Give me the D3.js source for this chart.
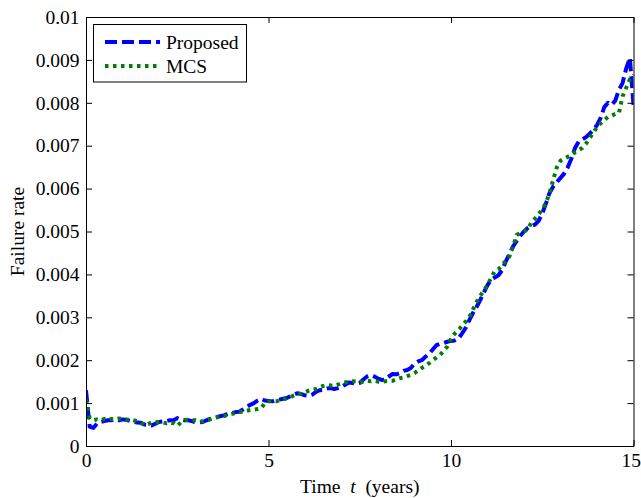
<!DOCTYPE html>
<html>
<head>
<meta charset="utf-8">
<script src="https://cdn.jsdelivr.net/npm/d3@7"></script>
<style>
  html, body { margin: 0; padding: 0; background: #fff; }
  svg { display: block; }
  text { font-family: "Liberation Serif", "Times New Roman", serif; fill: #000; }
</style>
</head>
<body>
<svg id="chart" width="641" height="498"></svg>
<script>
// Time axis (years), sampled every 0.1 year
const time = d3.range(0, 151).map(i => i / 10);

// Failure rate from the proposed method
const proposed = [
  0.00130, 0.00045, 0.00042, 0.00052, 0.00056, 0.00058, 0.00060, 0.00060, 0.00062, 0.00060,
  0.00062, 0.00061, 0.00059, 0.00056, 0.00055, 0.00054, 0.00050, 0.00049, 0.00048, 0.00052,
  0.00056, 0.00057, 0.00058, 0.00060, 0.00060, 0.00065, 0.00062, 0.00060, 0.00060, 0.00058,
  0.00055, 0.00055, 0.00056, 0.00060, 0.00063, 0.00065, 0.00068, 0.00070, 0.00072, 0.00076,
  0.00077, 0.00079, 0.00080, 0.00085, 0.00091, 0.00096, 0.00100, 0.00106, 0.00110, 0.00106,
  0.00105, 0.00104, 0.00106, 0.00108, 0.00110, 0.00112, 0.00116, 0.00120, 0.00123, 0.00121,
  0.00118, 0.00117, 0.00120, 0.00126, 0.00130, 0.00131, 0.00134, 0.00135, 0.00133, 0.00135,
  0.00138, 0.00143, 0.00148, 0.00147, 0.00144, 0.00147, 0.00155, 0.00162, 0.00165, 0.00162,
  0.00157, 0.00154, 0.00155, 0.00162, 0.00168, 0.00167, 0.00170, 0.00175, 0.00177, 0.00182,
  0.00192, 0.00197, 0.00200, 0.00208, 0.00215, 0.00225, 0.00235, 0.00238, 0.00240, 0.00243,
  0.00245, 0.00246, 0.00250, 0.00262, 0.00275, 0.00293, 0.00310, 0.00324, 0.00340, 0.00358,
  0.00375, 0.00388, 0.00393, 0.00398, 0.00410, 0.00430, 0.00448, 0.00465, 0.00478, 0.00490,
  0.00500, 0.00508, 0.00513, 0.00516, 0.00525, 0.00542, 0.00565, 0.00590, 0.00605, 0.00615,
  0.00625, 0.00635, 0.00650, 0.00670, 0.00695, 0.00710, 0.00715, 0.00720, 0.00728, 0.00737,
  0.00748, 0.00765, 0.00790, 0.00800, 0.00795, 0.00805, 0.00830, 0.00846, 0.00880, 0.00905,
  0.00795
];

// Failure rate from Monte Carlo simulation
const mcs = [
  0.00108, 0.00065, 0.00060, 0.00062, 0.00060, 0.00063, 0.00061, 0.00063, 0.00062, 0.00064,
  0.00063, 0.00061, 0.00062, 0.00060, 0.00058, 0.00055, 0.00049, 0.00051, 0.00055, 0.00056,
  0.00056, 0.00055, 0.00053, 0.00055, 0.00053, 0.00047, 0.00055, 0.00060, 0.00061, 0.00060,
  0.00060, 0.00058, 0.00057, 0.00059, 0.00062, 0.00065, 0.00067, 0.00069, 0.00070, 0.00073,
  0.00075, 0.00077, 0.00079, 0.00080, 0.00082, 0.00084, 0.00085, 0.00086, 0.00088, 0.00100,
  0.00104, 0.00105, 0.00104, 0.00106, 0.00109, 0.00111, 0.00114, 0.00118, 0.00120, 0.00122,
  0.00125, 0.00129, 0.00131, 0.00133, 0.00137, 0.00140, 0.00142, 0.00141, 0.00140, 0.00143,
  0.00146, 0.00148, 0.00150, 0.00151, 0.00150, 0.00148, 0.00150, 0.00152, 0.00151, 0.00152,
  0.00150, 0.00149, 0.00151, 0.00152, 0.00152, 0.00155, 0.00158, 0.00160, 0.00163, 0.00166,
  0.00170, 0.00176, 0.00182, 0.00187, 0.00193, 0.00200, 0.00206, 0.00212, 0.00222, 0.00232,
  0.00250, 0.00262, 0.00270, 0.00280, 0.00290, 0.00300, 0.00318, 0.00335, 0.00350, 0.00362,
  0.00375, 0.00392, 0.00408, 0.00412, 0.00420, 0.00432, 0.00442, 0.00465, 0.00492, 0.00496,
  0.00500, 0.00505, 0.00520, 0.00530, 0.00540, 0.00552, 0.00566, 0.00590, 0.00620, 0.00650,
  0.00665, 0.00670, 0.00674, 0.00678, 0.00685, 0.00690, 0.00695, 0.00705, 0.00718, 0.00730,
  0.00744, 0.00752, 0.00760, 0.00767, 0.00770, 0.00774, 0.00776, 0.00815, 0.00835, 0.00855,
  0.00865
];

const xTicks = [0, 5, 10, 15];
const xTickLabels = ["0", "5", "10", "15"];
const yTicks = [0, 0.001, 0.002, 0.003, 0.004, 0.005, 0.006, 0.007, 0.008, 0.009, 0.01];
const yTickLabels = ["0", "0.001", "0.002", "0.003", "0.004", "0.005", "0.006", "0.007", "0.008", "0.009", "0.01"];

const seriesNames = ["Proposed", "MCS"];
const seriesColors = ["#0000ff", "#008000"];
const seriesDash = ["12,5", "3.5,4.5"];

const svg = d3.select("#chart");
const W = 641, H = 498;
const margin = { left: 86, right: 7.5, top: 17, bottom: 52 };
const x0 = margin.left, x1 = W - margin.right;
const y0 = H - margin.bottom, y1 = margin.top;

const x = d3.scaleLinear().domain([0, 15]).range([x0, x1]);
const y = d3.scaleLinear().domain([0, 0.01]).range([y0, y1]);

const fontSize = 19.5;
const tickLen = 6;

// clip the curves to the plot box
svg.append("defs").append("clipPath").attr("id", "plotClip")
  .append("rect").attr("x", x0).attr("y", y1).attr("width", x1 - x0).attr("height", y0 - y1);

const line = d3.line().x(d => x(d[0])).y(d => y(d[1]));
const seriesData = [proposed, mcs].map(vals => time.map((t, i) => [t, vals[i]]));

const plot = svg.append("g").attr("clip-path", "url(#plotClip)");
seriesData.forEach((d, i) => {
  plot.append("path")
    .datum(d)
    .attr("d", line)
    .attr("fill", "none")
    .attr("stroke", seriesColors[i])
    .attr("stroke-width", 4)
    .attr("stroke-dasharray", seriesDash[i])
    .attr("stroke-linejoin", "round");
});

// Axes: inward ticks on all four sides, labels on bottom and left
const axisBottom = d3.axisBottom(x).tickValues(xTicks).tickFormat((d, i) => xTickLabels[i])
  .tickSizeInner(-tickLen).tickSizeOuter(0).tickPadding(7);
const axisTop = d3.axisTop(x).tickValues(xTicks).tickFormat("")
  .tickSizeInner(-tickLen).tickSizeOuter(0);
const axisLeft = d3.axisLeft(y).tickValues(yTicks).tickFormat((d, i) => yTickLabels[i])
  .tickSizeInner(-tickLen).tickSizeOuter(0).tickPadding(6.5);
const axisRight = d3.axisRight(y).tickValues(yTicks).tickFormat("")
  .tickSizeInner(-tickLen).tickSizeOuter(0);

function styleAxis(g) {
  g.selectAll("path.domain").attr("stroke", "#000").attr("stroke-width", 1);
  g.selectAll(".tick line").attr("stroke", "#000").attr("stroke-width", 1);
  g.selectAll(".tick text")
    .style("font-family", '"Liberation Serif", "Times New Roman", serif')
    .style("font-size", fontSize + "px")
    .attr("fill", "#000");
}

const gx = svg.append("g").attr("transform", `translate(0,${y0})`).call(axisBottom).call(styleAxis);
// keep the last time label inside the page edge
gx.selectAll(".tick text")
  .filter((d, i, n) => i === n.length - 1)
  .attr("text-anchor", "end")
  .attr("x", W - 0.5 - x1);
svg.append("g").attr("transform", `translate(0,${y1})`).call(axisTop).call(styleAxis);
svg.append("g").attr("transform", `translate(${x0},0)`).call(axisLeft).call(styleAxis);
svg.append("g").attr("transform", `translate(${x1},0)`).call(axisRight).call(styleAxis);

// Axis titles
const xLabel = svg.append("text")
  .attr("x", (x0 + x1) / 2)
  .attr("y", 493)
  .attr("text-anchor", "middle")
  .style("font-size", fontSize + "px")
  .attr("xml:space", "preserve");
xLabel.append("tspan").text("Time  ");
xLabel.append("tspan").style("font-style", "italic").text("t");
xLabel.append("tspan").text("  (years)");

svg.append("text")
  .attr("transform", `translate(24,${(y0 + y1) / 2}) rotate(-90)`)
  .attr("text-anchor", "middle")
  .style("font-size", fontSize + "px")
  .text("Failure rate");

// Legend
const legend = svg.append("g");
legend.append("rect")
  .attr("x", 93.5).attr("y", 24.5).attr("width", 153).attr("height", 57.5)
  .attr("fill", "#fff").attr("stroke", "#000").attr("stroke-width", 1);
const rowY = [42, 66];
seriesNames.forEach((name, i) => {
  legend.append("line")
    .attr("x1", 105).attr("x2", 160)
    .attr("y1", rowY[i]).attr("y2", rowY[i])
    .attr("stroke", seriesColors[i])
    .attr("stroke-width", 4)
    .attr("stroke-dasharray", seriesDash[i]);
  legend.append("text")
    .attr("x", 166).attr("y", rowY[i] + 6.5)
    .style("font-size", fontSize + "px")
    .text(name);
});
</script>
</body>
</html>
